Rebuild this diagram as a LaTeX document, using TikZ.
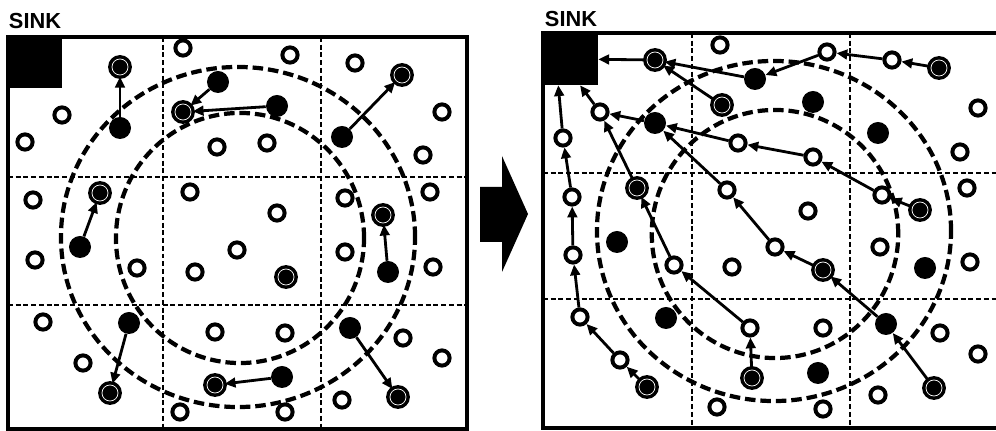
\documentclass[tikz,border=0pt]{standalone}
\usepackage{fontspec}
\setsansfont{Liberation Sans}
\usetikzlibrary{arrows.meta}

\begin{document}
\begin{tikzpicture}[x=0.025cm, y=-0.025cm, >={Triangle[length=0.27cm, width=0.24cm]},
    idle/.style = {draw, circle, line width=2.8pt, fill=white, minimum size=0.38cm, inner sep=0pt},
    active/.style = {circle, fill=black, minimum size=0.55cm, inner sep=0pt},
    chead/.style = {draw, circle, fill=black, double=white, double distance=0.5pt, line width=2.5pt, minimum size=0.4cm, inner sep=0pt},
    sinkbox/.style = {rectangle, fill=black, inner sep=0pt},
    label/.style = {font=\sffamily\bfseries\fontsize{15.5}{18}\selectfont, inner sep=0pt},
    grid/.style = {line width=1.6pt, dash pattern=on 3.5pt off 2pt},
    ring/.style = {line width=3pt, dash pattern=on 7.5pt off 3.5pt},
    link/.style = {->, line width=2pt}]
    \useasboundingbox (0,0) rectangle (996,431);

    % left field
    \node[label] (ltitle) at (35,21) {SINK};
    \draw[grid] (163,37) -- (163,429) (321,37) -- (321,429);
    \draw[grid] (8,177) -- (467,177) (8,305) -- (467,305);
    \draw[line width=2.2pt] (8,37) rectangle (467,429);
    \node[sinkbox, minimum width=1.35cm, minimum height=1.275cm] (lsink) at (35,62.5) {};
    \draw[ring] (238,237) ellipse [x radius=4.425cm, y radius=4.25cm];
    \draw[ring] (240,238) ellipse [x radius=3.1cm, y radius=3.125cm];

    \node[idle] (li1) at (183,48) {};
    \node[idle] (li2) at (290,55) {};
    \node[idle] (li3) at (355,63) {};
    \node[idle] (li4) at (62,115) {};
    \node[idle] (li5) at (25,142) {};
    \node[idle] (li6) at (217,147) {};
    \node[idle] (li7) at (267,143) {};
    \node[idle] (li8) at (442,112) {};
    \node[idle] (li9) at (423,155) {};
    \node[idle] (li10) at (33,200) {};
    \node[idle] (li11) at (190,192) {};
    \node[idle] (li12) at (430,192) {};
    \node[idle] (li13) at (345,198) {};
    \node[idle] (li14) at (277,213) {};
    \node[idle] (li15) at (35,260) {};
    \node[idle] (li16) at (137,268) {};
    \node[idle] (li17) at (195,272) {};
    \node[idle] (li18) at (237,250) {};
    \node[idle] (li19) at (345,252) {};
    \node[idle] (li20) at (433,267) {};
    \node[idle] (li21) at (43,322) {};
    \node[idle] (li22) at (215,332) {};
    \node[idle] (li23) at (285,333) {};
    \node[idle] (li24) at (83,363) {};
    \node[idle] (li25) at (403,338) {};
    \node[idle] (li26) at (442,358) {};
    \node[idle] (li27) at (180,412) {};
    \node[idle] (li28) at (342,400) {};
    \node[idle] (li29) at (285,412) {};

    \node[active] (la1) at (120,128) {};
    \node[active] (la2) at (218,82) {};
    \node[active] (la3) at (277,106) {};
    \node[active] (la4) at (342,137) {};
    \node[active] (la5) at (80,247) {};
    \node[active] (la6) at (388,272) {};
    \node[active] (la7) at (129,323) {};
    \node[active] (la8) at (282,377) {};
    \node[active] (la9) at (350,328) {};

    \node[chead] (lh1) at (120,67) {};
    \node[chead] (lh2) at (183,112) {};
    \node[chead] (lh3) at (402,75) {};
    \node[chead] (lh4) at (100,193) {};
    \node[chead] (lh5) at (383,215) {};
    \node[chead] (lh6) at (286,277) {};
    \node[chead] (lh7) at (110,393) {};
    \node[chead] (lh8) at (215,385) {};
    \node[chead] (lh9) at (398,397) {};

    \draw[link] (la1) -- (lh1);
    \draw[link] (la2) -- (lh2);
    \draw[link] (la3) -- (lh2);
    \draw[link] (la4) -- (lh3);
    \draw[link] (la5) -- (lh4);
    \draw[link] (la6) -- (lh5);
    \draw[link] (la7) -- (lh7);
    \draw[link] (la8) -- (lh8);
    \draw[link] (la9) -- (lh9);

    % big arrow
    \fill (480,187) -- (502,187) -- (502,156) -- (528,214) -- (502,272) -- (502,242) -- (480,242) -- cycle;

    % right field
    \node[label] (rtitle) at (571,19) {SINK};
    \draw[grid] (692,33) -- (692,428) (850,33) -- (850,428);
    \draw[grid] (543,173) -- (996,173) (543,299) -- (996,299);
    \draw[line width=2.2pt] (543,33) rectangle (998,428);
    \node[sinkbox, minimum width=1.375cm, minimum height=1.3cm] (rsink) at (570.5,59) {};
    \draw[ring] (774,231) ellipse [x radius=4.425cm, y radius=4.25cm];
    \draw[ring] (775,234) ellipse [x radius=3.08cm, y radius=3.1cm];

    \node[idle] (ri1) at (720,45) {};
    \node[idle] (ri2) at (827,52) {};
    \node[idle] (ri3) at (892,60) {};
    \node[idle] (ri4) at (600,112) {};
    \node[idle] (ri5) at (563,138) {};
    \node[idle] (ri6) at (738,143) {};
    \node[idle] (ri7) at (813,157) {};
    \node[idle] (ri8) at (978,108) {};
    \node[idle] (ri9) at (960,152) {};
    \node[idle] (ri10) at (572,197) {};
    \node[idle] (ri11) at (727,190) {};
    \node[idle] (ri12) at (882,195) {};
    \node[idle] (ri13) at (967,188) {};
    \node[idle] (ri14) at (808,211) {};
    \node[idle] (ri15) at (775,247) {};
    \node[idle] (ri16) at (880,247) {};
    \node[idle] (ri17) at (970,262) {};
    \node[idle] (ri18) at (573,255) {};
    \node[idle] (ri19) at (674,265) {};
    \node[idle] (ri20) at (732,267) {};
    \node[idle] (ri21) at (580,317) {};
    \node[idle] (ri22) at (750,328) {};
    \node[idle] (ri23) at (823,328) {};
    \node[idle] (ri24) at (940,333) {};
    \node[idle] (ri25) at (978,354) {};
    \node[idle] (ri26) at (620,360) {};
    \node[idle] (ri27) at (717,407) {};
    \node[idle] (ri28) at (878,395) {};
    \node[idle] (ri29) at (823,409) {};

    \node[active] (ra1) at (755,79) {};
    \node[active] (ra2) at (813,102) {};
    \node[active] (ra3) at (655,123) {};
    \node[active] (ra4) at (878,133) {};
    \node[active] (ra5) at (617,242) {};
    \node[active] (ra6) at (925,268) {};
    \node[active] (ra7) at (666,318) {};
    \node[active] (ra8) at (886,324) {};
    \node[active] (ra9) at (818,373) {};

    \node[chead] (rh1) at (655,60) {};
    \node[chead] (rh2) at (722,105) {};
    \node[chead] (rh3) at (939,68) {};
    \node[chead] (rh4) at (637,188) {};
    \node[chead] (rh5) at (920,210) {};
    \node[chead] (rh6) at (823,270) {};
    \node[chead] (rh7) at (752,378) {};
    \node[chead] (rh8) at (647,387) {};
    \node[chead] (rh9) at (934,388) {};

    % routes to the sink
    \draw[link] (rh1) -- (rsink);
    \draw[link] (ra1) -- (rh1);
    \draw[link] (rh2) -- (rh1);
    \draw[link] (ri2) -- (ra1);
    \draw[link] (ri3) -- (ri2);
    \draw[link] (rh3) -- (ri3);
    \draw[link] (ri4) -- (rsink.290);
    \draw[link] (ra3) -- (ri4);
    \draw[link] (ri6) -- (ra3);
    \draw[link] (ri7) -- (ri6);
    \draw[link] (ri12) -- (ri7);
    \draw[link] (rh5) -- (ri12);
    \draw[link] (ri11) -- (ra3);
    \draw[link] (ri15) -- (ri11);
    \draw[link] (rh6) -- (ri15);
    \draw[link] (ra8) -- (rh6);
    \draw[link] (rh9) -- (ra8);
    \draw[link] (ri5) -- (rsink.245);
    \draw[link] (ri10) -- (ri5);
    \draw[link] (ri18) -- (ri10);
    \draw[link] (ri21) -- (ri18);
    \draw[link] (ri26) -- (ri21);
    \draw[link] (rh8) -- (ri26);
    \draw[link] (rh4) -- (ri4);
    \draw[link] (ri19) -- (rh4);
    \draw[link] (ri22) -- (ri19);
    \draw[link] (rh7) -- (ri22);
\end{tikzpicture}
\end{document}
